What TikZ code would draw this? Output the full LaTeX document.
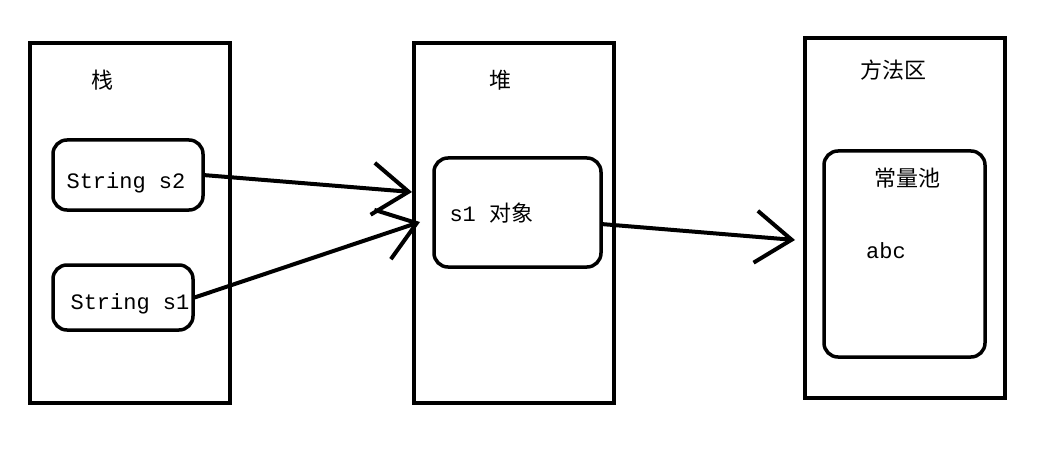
\documentclass[tikz,border=0pt]{standalone}
\usepackage{fontspec}
\newfontfamily\cjk{Noto Sans CJK SC}
\setmonofont{Liberation Mono}
\usetikzlibrary{arrows.meta}
\begin{document}
\begin{tikzpicture}[x=1pt,y=-1pt,
  big/.style={draw,line width=4pt},
  small/.style={draw,line width=3.5pt,rounded corners=14pt},
  lab/.style={font=\cjk\fontsize{22}{24}\selectfont},
  code/.style={font=\ttfamily\fontsize{22}{24}\selectfont},
  arr/.style={line width=4pt,-{Straight Barb[length=36pt,width=52pt,line width=4pt]}}]
\useasboundingbox (0,0) rectangle (1050,468);
\draw[big] (30,43) rectangle (230,403);
\draw[big] (414,43) rectangle (614,403);
\draw[big] (805,38) rectangle (1005,398);
\node[lab] (stack) at (102,80) {栈};
\node[lab] (heap) at (500,80) {堆};
\node[lab] (method) at (893,70) {方法区};
\draw[small] (53,140) rectangle (203,210);
\node[code] (s2) at (126,183) {String s2};
\node[code] (s1) at (130,304) {String s1};
\draw[small] (53,265) rectangle (193,330);
\draw[small] (434,158) rectangle (601,267);
\node[lab,anchor=west] (obj) at (446,213) {\ttfamily s1 \cjk 对象};
\draw[small] (824,151) rectangle (985,357);
\node[lab] (pool) at (907,178) {常量池};
\node[code] (abc) at (886,251) {abc};
\coordinate (a1) at (203,175); \coordinate (b1) at (412,192);
\coordinate (a2) at (193,298); \coordinate (b2) at (420,222);
\coordinate (a3) at (601,224); \coordinate (b3) at (795,240);
\draw[arr] (a1) -- (b1);
\draw[arr] (a2) -- (b2);
\draw[arr] (a3) -- (b3);
\end{tikzpicture}
\end{document}
